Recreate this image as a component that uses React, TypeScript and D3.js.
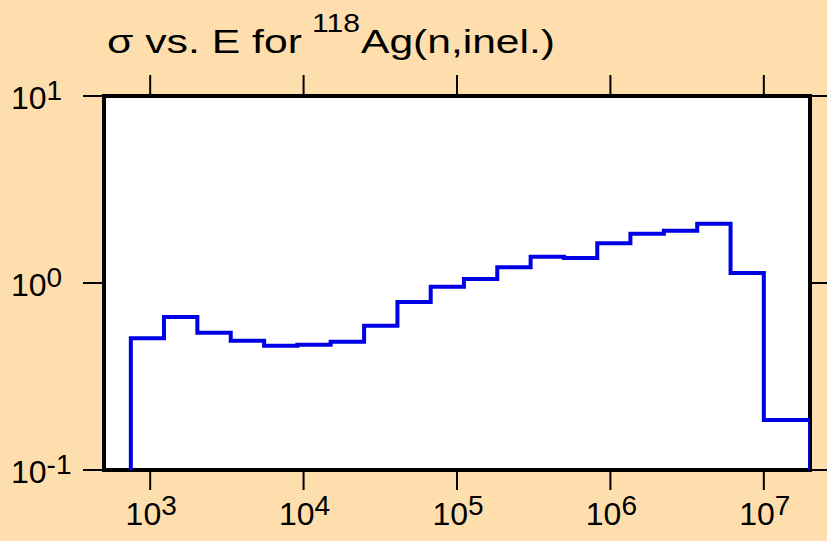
import React from "react";
import * as d3 from "d3";

// group boundaries (eV) and cross sections (b)
const energyEdges = [
  748, 1230, 2030, 3350, 5530, 9120, 15000, 24800, 40900, 67400, 111000,
  183000, 302000, 498000, 821000, 1350000, 2230000, 3680000, 6070000,
  10000000, 20000000,
];
const sigma = [
  0.506, 0.658, 0.542, 0.491, 0.462, 0.468, 0.485, 0.591, 0.791, 0.955,
  1.05, 1.213, 1.383, 1.36, 1.63, 1.835, 1.905, 2.075, 1.13, 0.185,
];
const xTicks = [1e3, 1e4, 1e5, 1e6, 1e7];
const xTickExp = ["3", "4", "5", "6", "7"];
const yTicks = [0.1, 1, 10];
const yTickExp = ["-1", "0", "1"];

const W = 827;
const H = 541;
const left = 104;
const right = 810;
const top = 96;
const bottom = 470;
const font = "'Liberation Sans', Arial, Helvetica, sans-serif";

export default function App() {
  const x = d3.scaleLog().domain([500, 2e7]).range([left, right]);
  const y = d3.scaleLog().domain([0.1, 10]).range([bottom, top]);

  const pts: [number, number][] = [[energyEdges[0], 0.1]];
  sigma.forEach((v, i) => pts.push([energyEdges[i], v]));
  pts.push([energyEdges[energyEdges.length - 1], sigma[sigma.length - 1]]);
  pts.push([energyEdges[energyEdges.length - 1], 0.1]);

  const line = d3
    .line<[number, number]>()
    .x((d) => x(d[0]))
    .y((d) => y(d[1]))
    .curve(d3.curveStepAfter);

  return (
    <svg
      width={W}
      height={H}
      style={{ position: "absolute", left: 0, top: 0, display: "block" }}
      fontFamily={font}
    >
      <rect x={0} y={0} width={W} height={H} fill="#FFDEAD" />
      <defs>
        <clipPath id="plotClip">
          <rect x={left} y={top} width={right - left} height={bottom - top} />
        </clipPath>
      </defs>

      {/* title */}
      <text x={107} y={53} fontSize={34} textLength={195} lengthAdjust="spacingAndGlyphs">
        σ vs. E for
      </text>
      <text x={312} y={32} fontSize={26} textLength={48} lengthAdjust="spacingAndGlyphs">
        118
      </text>
      <text x={361} y={53} fontSize={34} textLength={194} lengthAdjust="spacingAndGlyphs">
        Ag(n,inel.)
      </text>

      <rect x={left} y={top} width={right - left} height={bottom - top} fill="#fff" />

      {/* x ticks, bottom and top */}
      {xTicks.map((t, i) => (
        <g key={"x" + t}>
          <line x1={x(t)} x2={x(t)} y1={bottom} y2={bottom + 20} stroke="#000" strokeWidth={2} />
          <line x1={x(t)} x2={x(t)} y1={top - 21} y2={top} stroke="#000" strokeWidth={2} />
          <text x={x(t) + 1} y={525} fontSize={32} textAnchor="middle">
            10
            <tspan dy={-10} fontSize={28}>
              {xTickExp[i]}
            </tspan>
          </text>
        </g>
      ))}

      {/* y ticks, left and right */}
      {yTicks.map((t, i) => (
        <g key={"y" + t}>
          <line x1={left - 21} x2={left} y1={y(t)} y2={y(t)} stroke="#000" strokeWidth={2} />
          <line x1={right} x2={W} y1={y(t)} y2={y(t)} stroke="#000" strokeWidth={2} />
          <text x={11} y={y(t) + 13} fontSize={32}>
            10
            <tspan dy={-9} fontSize={28}>
              {yTickExp[i]}
            </tspan>
          </text>
        </g>
      ))}

      <rect
        x={left}
        y={top}
        width={right - left}
        height={bottom - top}
        fill="none"
        stroke="#000"
        strokeWidth={4}
      />

      <path
        d={line(pts) ?? ""}
        fill="none"
        stroke="#0000e6"
        strokeWidth={4}
        clipPath="url(#plotClip)"
      />
    </svg>
  );
}
